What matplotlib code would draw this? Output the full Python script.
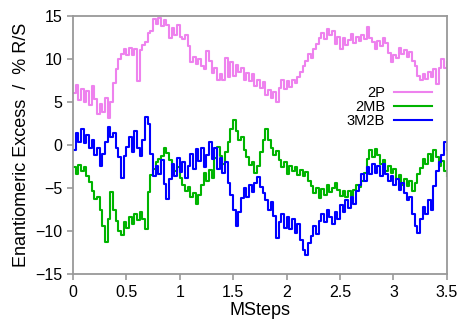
import numpy as np
import matplotlib
matplotlib.use("Agg")
import matplotlib.pyplot as plt

plt.rcParams["font.family"] = ["Liberation Sans", "DejaVu Sans"]

# enantiomeric excess (% R/S) sampled every 0.025 MSteps
ee_2p = [6.0, 7.0, 5.2, 6.5, 5.0, 6.3, 4.6, 6.8, 5.4, 3.6,
         4.8, 3.8, 5.5, 3.1, 5.0, 7.2, 8.8, 10.0, 10.6, 11.2,
         10.5, 11.3, 10.4, 11.1, 7.4, 11.0, 11.6, 12.0, 13.0, 13.3,
         14.6, 14.0, 14.7, 13.8, 14.5, 13.9, 12.4, 13.6, 12.8, 13.9,
         12.6, 12.3, 12.8, 11.5, 9.6, 10.2, 9.4, 10.0, 9.2, 8.8,
         10.9, 9.8, 8.4, 8.9, 7.6, 8.2, 7.5, 10.1, 7.9, 9.6,
         8.0, 9.3, 8.5, 8.9, 7.6, 8.4, 7.4, 8.2, 6.9, 7.6,
         6.6, 7.3, 5.8, 6.4, 5.5, 6.2, 5.0, 6.6, 7.5, 6.5,
         7.4, 6.7, 7.6, 7.2, 7.9, 8.5, 9.2, 9.8, 10.6, 10.1,
         11.1, 11.7, 12.4, 13.0, 12.3, 13.5, 12.8, 13.2, 11.7, 12.6,
         11.2, 12.4, 11.6, 12.2, 12.9, 11.9, 12.6, 12.1, 12.8, 12.3,
         13.7, 12.4, 12.0, 11.2, 12.1, 11.5, 12.4, 11.8, 10.7, 9.6,
         10.4, 10.1, 11.3, 10.6, 11.0, 10.2, 10.8, 9.8, 9.2, 8.0,
         7.6, 8.3, 7.7, 8.5, 7.9, 8.8, 7.1, 9.0, 10.0, 8.9,
         9.6]

ee_2mb = [-2.6, -3.4, -2.3, -3.0, -2.6, -3.6, -4.3, -5.4, -6.3, -6.0,
          -7.5, -9.4, -11.3, -8.6, -5.5, -7.6, -8.8, -10.0, -10.5, -9.0,
          -9.6, -8.4, -9.2, -8.0, -8.7, -7.8, -8.6, -9.8, -5.5, -3.5,
          -2.8, -2.0, -1.6, -1.3, -0.4, -0.9, -1.8, -2.3, -3.0, -2.6,
          -3.8, -4.6, -5.4, -4.9, -6.0, -5.6, -6.8, -5.8, -4.6, -3.2,
          -4.2, -2.9, -3.8, -1.5, -0.2, -1.3, -2.2, -0.8, 0.4, 1.8,
          2.9, 1.6, 0.6, 0.9, -0.6, -1.4, -2.3, -2.0, -3.3, -2.4,
          -0.8, 0.6, 1.9, 0.6, -0.3, -1.2, -0.7, -1.8, -2.6, -2.0,
          -3.4, -2.4, -3.0, -2.6, -3.5, -2.9, -3.6, -3.1, -4.2, -4.8,
          -5.6, -5.0, -6.2, -5.1, -5.8, -4.6, -5.5, -5.0, -4.4, -5.2,
          -5.9, -5.3, -6.1, -5.4, -5.9, -5.2, -4.6, -4.9, -4.2, -3.3,
          -1.6, -0.6, -1.4, -0.5, -1.2, -2.2, -1.7, -3.0, -2.4, -3.3,
          -2.8, -4.0, -3.5, -4.6, -3.9, -4.8, -4.2, -5.3, -4.4, -3.4,
          -2.7, -1.6, -2.2, -1.0, -1.9, -0.6, -1.4, -2.4, -1.9, -3.0,
          -3.6]

ee_3m2b = [-0.6, 1.4, 0.4, 1.9, 0.2, 1.2, -0.4, 0.6, -1.2, -0.3,
           -2.4, -1.0, 0.4, 2.1, 0.9, 1.4, -0.3, -1.4, -3.8, -1.3,
           -0.2, 0.9, -0.8, 1.6, -0.4, -1.3, 0.6, 3.3, 2.4, -1.0,
           -3.6, -2.4, -3.4, -1.8, -4.5, -6.3, -4.0, -2.2, -3.6, -1.5,
           -3.1, -2.0, -3.8, -2.4, -1.0, -2.8, -0.5, -1.9, -0.3, -2.6,
           -1.2, 0.3, -1.6, -0.4, -2.8, -1.5, -3.2, -2.0, -4.4, -5.8,
           -7.6, -9.4, -7.8, -6.2, -5.0, -6.0, -4.6, -5.5, -4.4, -3.7,
           -4.9, -5.6, -6.4, -7.5, -6.6, -8.2, -10.8, -9.0, -8.0, -9.6,
           -8.4, -9.8, -8.6, -10.2, -9.2, -11.0, -12.2, -12.8, -11.4, -10.6,
           -9.4, -10.3, -8.8, -8.0, -8.9, -7.5, -8.4, -9.2, -7.8, -8.6,
           -7.0, -7.8, -6.4, -7.3, -6.0, -6.8, -5.4, -4.6, -3.4, -4.2,
           -2.6, -3.4, -2.2, -3.2, -2.4, -3.6, -2.2, -3.4, -4.2, -3.6,
           -4.6, -4.0, -5.2, -4.4, -5.6, -6.4, -6.0, -8.0, -9.4, -10.2,
           -8.6, -7.2, -8.0, -6.4, -7.6, -4.8, -3.0, -2.0, -1.2, 0.3,
           -0.6]

series = [("2P", ee_2p, "#ee82ee"),
          ("2MB", ee_2mb, "#00b400"),
          ("3M2B", ee_3m2b, "#0000ff")]

fig = plt.figure(figsize=(4.64, 3.24), dpi=100)
ax = fig.add_axes([0.157, 0.154, 0.806, 0.797])

for name, y, color in series:
    x = np.linspace(0, 3.5, len(y))
    ax.plot(x, y, color=color, linewidth=1.5, drawstyle="steps-post",
            label=name)

ax.set_xlim(0, 3.5)
ax.set_ylim(-15, 15)
ax.set_xticks([0, 0.5, 1, 1.5, 2, 2.5, 3, 3.5])
ax.set_xticklabels(["0", "0.5", "1", "1.5", "2", "2.5", "3", "3.5"])
ax.set_yticks([-15, -10, -5, 0, 5, 10, 15])
ax.set_yticklabels(["\u221215", "\u221210", "\u22125", "0", "5", "10", "15"])

for sp in ax.spines.values():
    sp.set_color("#999999")
    sp.set_linewidth(1.3)
ax.tick_params(axis="both", direction="out", length=4, width=1.2,
               color="#999999", labelsize=11.5, labelcolor="black")

ax.set_xlabel("MSteps", fontsize=13, labelpad=2)
ax.set_ylabel("Enantiomeric Excess  /  % R/S", fontsize=13, labelpad=4)

ax.legend(loc="upper right", bbox_to_anchor=(0.979, 0.755), frameon=False,
          markerfirst=False, fontsize=10.5, handlelength=2.6,
          labelspacing=0.0, handletextpad=0.6, borderpad=0)

fig.savefig("out.png", dpi=100)
